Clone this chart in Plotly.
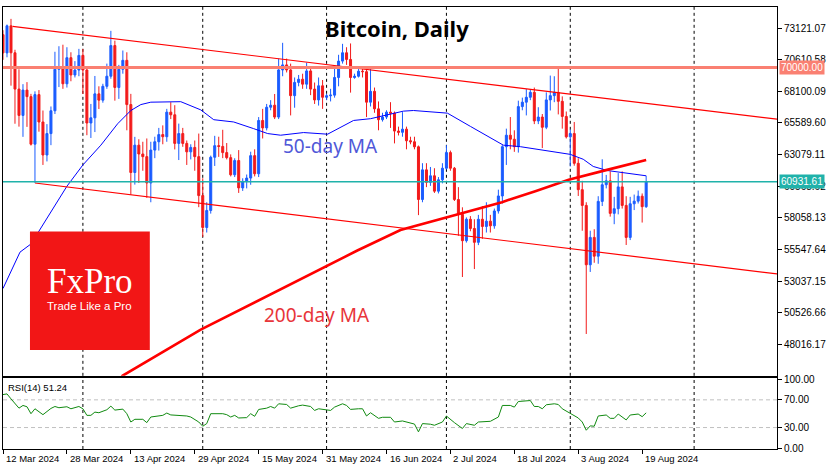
import pandas as pd
import plotly.graph_objects as go
from plotly.subplots import make_subplots

# ---------------- data ----------------
start_date = "2024-03-12"

opens = [72600, 71150, 73300, 71160, 68280, 66190, 68200, 67680, 63910, 67840,
         65670, 63050, 64750, 66560, 69850, 70000, 68700, 70770, 69400, 69790,
         70950, 69790, 65590, 66000, 67900, 67400, 68500, 69300, 71730, 68410,
         69850, 70560, 67050, 61660, 63830, 63130, 62920, 60830, 63440, 64100,
         64670, 64500, 66450, 66240, 63970, 64750, 63970, 63300, 63650, 62920,
         59830, 57300, 58650, 62870, 63790, 63730, 63240, 62840, 61480, 62610,
         60440, 60960, 61220, 63000, 61560, 65790, 65200, 66840, 67000, 66060,
         69800, 70200, 69800, 67760, 68810, 69060, 68670, 69720, 68280, 67420,
         68540, 67630, 67750, 67800, 69200, 70500, 71160, 70630, 69200, 69300,
         69700, 69660, 67240, 68100, 66710, 65850, 66060, 66450, 66370, 64950,
         64850, 65100, 64180, 64100, 63700, 59520, 61870, 60880, 61400, 60180,
         61080, 62000, 63240, 62000, 59520, 58340, 56250, 57950, 57220, 56120,
         57950, 57380, 57800, 57430, 58610, 59800, 63710, 64620, 64300, 63710,
         66890, 67240, 67630, 68020, 65750, 66060, 65250, 67420, 67760, 68020,
         67310, 66110, 64490, 64750, 62390, 60300, 59050, 54340, 56510, 55020,
         59370, 60690, 61000, 58420, 58790, 60520, 59050, 56510, 59180, 59390,
         59780, 58950]
highs = [72950, 73400, 73850, 71400, 69850, 68670, 68830, 67900, 68100, 68200,
         66580, 65500, 66900, 71240, 71680, 71800, 71600, 71200, 70500, 71470,
         71470, 70000, 67100, 69320, 68500, 68700, 70300, 72900, 72120, 70200,
         71340, 71200, 67900, 64490, 64300, 64100, 64360, 64100, 64500, 65200,
         65400, 66710, 67240, 67000, 65540, 65200, 64200, 63900, 64200, 64750,
         61200, 59300, 63000, 64570, 64500, 65050, 64000, 63100, 62790, 63440,
         61200, 61500, 63310, 63500, 66060, 66710, 67100, 67400, 67890, 70700,
         71950, 70700, 70300, 69200, 69400, 69500, 70370, 70000, 68800, 69200,
         69000, 67900, 68300, 69980, 71000, 71870, 71600, 71900, 69500, 69900,
         70100, 69900, 69980, 68400, 67300, 66400, 66600, 67240, 66500, 65300,
         66450, 65300, 64500, 64500, 63800, 62400, 62400, 62100, 62000, 61300,
         62400, 63830, 63400, 62100, 60500, 58900, 58100, 58200, 57950, 58300,
         59000, 59300, 58300, 58800, 60300, 63830, 65140, 66060, 65010, 67360,
         67600, 68280, 68280, 68400, 66840, 66300, 68020, 69350, 69300, 70030,
         67700, 66500, 65060, 65670, 62790, 61000, 59300, 57040, 57160, 59780,
         62710, 61470, 61750, 59730, 61610, 61750, 59780, 59730, 59910, 60230,
         60000, 61400]
lows = [70600, 70800, 68550, 65530, 65300, 64490, 65280, 63800, 60830, 64900,
        62260, 62540, 63830, 66300, 68440, 68300, 68400, 68900, 69200, 69300,
        67890, 64620, 64400, 64870, 66700, 67200, 68300, 69100, 67360, 67500,
        69500, 65010, 59900, 60700, 60830, 61800, 59650, 59300, 62800, 63400,
        63900, 64100, 65900, 63490, 62650, 63700, 62260, 62700, 61800, 58910,
        56550, 56900, 58400, 62180, 62900, 62800, 62700, 61350, 61300, 60040,
        60200, 60400, 60690, 61350, 61300, 64360, 65000, 66600, 65900, 65900,
        69300, 69600, 66190, 66800, 68500, 68300, 68300, 67800, 67100, 66970,
        66710, 67400, 67300, 67600, 68500, 70300, 70200, 68000, 69100, 69200,
        69200, 66060, 66900, 66400, 65010, 65700, 65900, 65200, 63970, 64600,
        64500, 63500, 63900, 63500, 58280, 59300, 60500, 60600, 60040, 60000,
        60800, 61900, 61800, 59400, 56640, 53370, 56100, 57000, 54000, 55900,
        56400, 56900, 56900, 57200, 58400, 59200, 62260, 63500, 63300, 63240,
        66600, 66190, 67400, 65500, 65500, 63600, 65100, 66580, 67240, 66270,
        65140, 64360, 62140, 62200, 59800, 57040, 48850, 53770, 54500, 54420,
        59000, 60400, 58160, 57560, 58340, 58800, 55910, 56300, 58680, 59200,
        57690, 58850]
closes = [71150, 73300, 71160, 68280, 66190, 68200, 67680, 63910, 67840, 65670,
          63050, 64750, 66560, 69850, 70000, 68700, 70770, 69400, 69790, 70950,
          69790, 65590, 66000, 67900, 67400, 68500, 69300, 71730, 68410, 69850,
          70560, 67050, 61660, 63830, 63130, 62920, 60830, 63440, 64100, 64670,
          64500, 66450, 66240, 63970, 64750, 63970, 63300, 63650, 62920, 59830,
          57300, 58650, 62870, 63790, 63730, 63240, 62840, 61480, 62610, 60440,
          60960, 61220, 63000, 61560, 65790, 65200, 66840, 67000, 66060, 69800,
          70200, 69800, 67760, 68810, 69060, 68670, 69720, 68280, 67420, 68540,
          67630, 67750, 67800, 69200, 70500, 71160, 70630, 69200, 69300, 69700,
          69660, 67240, 68100, 66710, 65850, 66060, 66450, 66370, 64950, 64850,
          65100, 64180, 64100, 63700, 59520, 61870, 60880, 61400, 60180, 61080,
          62000, 63240, 62000, 59520, 58340, 56250, 57950, 57220, 56120, 57950,
          57380, 57800, 57430, 58610, 59800, 63710, 64620, 64300, 63710, 66890,
          67240, 67630, 68020, 65750, 66060, 65250, 67420, 67760, 68020, 67310,
          66110, 64490, 64750, 62390, 60300, 59050, 54340, 56510, 55020, 59370,
          60690, 61000, 58420, 58790, 60520, 59050, 56510, 59180, 59390, 59780,
          58950, 60931.61]

# moving averages (day offset from start, price)
ma50_day = [0, 4.25, 7, 16, 20, 24.5, 28.7, 32, 34.5, 37, 44.5, 49.5, 52.75, 57.75,
            62.75, 66.25, 69.5, 75.25, 81.25, 87.75, 92, 100.25, 102.75, 111.25,
            117, 125.25, 129.5, 135.25, 142, 145.25, 147.75, 151.25, 155.25, 161]
ma50_val = [52460, 55340, 55990, 60570, 62260, 63830, 65530, 66580, 67050, 67240,
            67280, 66630, 65850, 65670, 65140, 64750, 64620, 64830, 64700, 65790,
            65930, 66530, 66580, 66370, 65320, 63830, 63710, 63440, 63100, 62710,
            62140, 61820, 61670, 61400]
ma200_day = [27, 29.9, 49.5, 81.2, 88.7, 99.5, 109.5, 116.6, 124.9, 133.25, 141.6, 151.2, 161]
ma200_val = [44120, 45530, 49190, 54290, 55470, 57100, 57950, 58610, 59310, 60180,
             61090, 61870, 62660]

# channel lines (day offset, price)
upper_day = [2.4, 193.75]
upper_val = [73247, 65890]
lower_day = [8, 193.75]
lower_val = [60828, 53611]

level_price = 70000.00
last_price = 60931.61

# RSI(14) (day offset, value)
rsi_day = [0, 1, 2, 4, 5, 6, 7, 8, 10, 12, 13, 14, 16, 17, 19, 20, 21, 22, 23, 24,
           26, 27, 28, 30, 31, 32, 33, 35, 36, 37, 40, 41, 42, 44, 46, 47, 49, 50,
           51, 52, 55, 56, 57, 58, 59, 61, 62, 63, 64, 66, 67, 68, 69, 71, 72, 74,
           75, 77, 78, 79, 82, 83, 85, 86, 87, 89, 90, 91, 92, 94, 95, 97, 98, 100,
           102, 103, 104, 105, 107, 108, 110, 111, 113, 115, 116, 118, 119, 121, 122,
           124, 125, 127, 128, 129, 131, 132, 133, 134, 135, 136, 138, 139, 140, 142,
           144, 145, 146, 147, 148, 149, 151, 152, 153, 154, 155, 156, 157, 159, 160,
           161]
rsi_val = [77.6, 78.6, 71.4, 58, 61.9, 60, 50, 57.1, 48.6, 57.6, 60.4, 58.6, 60, 57.1,
           60.4, 57.1, 47.6, 47.6, 52.3, 51.4, 55.7, 60.9, 55.2, 56.6, 50, 38, 41.9,
           41.9, 37.1, 45.2, 47.6, 50.9, 48.2, 47.6, 46.7, 45.2, 38, 31.9, 35.7, 50,
           50, 48.6, 45.2, 47.6, 43.8, 44.3, 50, 46.2, 56.1, 58, 60.4, 58, 64.3, 63.3,
           58, 61.4, 62.4, 60.4, 54.7, 57.1, 54.7, 59.5, 64.3, 61.9, 56.2, 57.1, 57.1,
           46.7, 51.4, 43.3, 44.8, 44.8, 38, 39.5, 36, 35, 23.8, 35.7, 34.8, 33.3, 38,
           46.6, 37.1, 28.6, 35.7, 33.3, 38, 39, 39, 45.2, 61.9, 61.9, 59.5, 67.6,
           68.1, 69, 60.4, 60.4, 57.1, 62.9, 64.3, 63.3, 57.1, 50, 43.8, 38, 26.1,
           32.4, 31.9, 46.7, 48.1, 43.3, 43.3, 49.5, 45.7, 41, 48.1, 49.5, 45.7, 51.24]

price_ticks = [73121.07, 70610.58, 68100.09, 65589.60, 63079.11, 60568.62,
               58058.13, 55547.64, 53037.15, 50526.66, 48016.17]
rsi_ticks = [0, 30, 70, 100]
date_tick_labels = ["12 Mar 2024", "28 Mar 2024", "13 Apr 2024", "29 Apr 2024",
                    "15 May 2024", "31 May 2024", "16 Jun 2024", "2 Jul 2024",
                    "18 Jul 2024", "3 Aug 2024", "19 Aug 2024"]
date_tick_dates = ["2024-03-12", "2024-03-28", "2024-04-13", "2024-04-29",
                   "2024-05-15", "2024-05-31", "2024-06-16", "2024-07-02",
                   "2024-07-18", "2024-08-03", "2024-08-19"]
month_separators = ["2024-04-01", "2024-05-01", "2024-06-01", "2024-07-01",
                    "2024-08-01", "2024-09-01"]

# ---------------- figure ----------------
t0 = pd.Timestamp(start_date)
dates = pd.date_range(t0, periods=len(closes), freq="D")
to_date = lambda days: [t0 + pd.Timedelta(days=d) for d in days]

BLUE = "#1a5cff"
RED = "#f21b1b"
W, H = 835, 470
L_PX, R_PX, T_PX, B_PX = 2, 777, 2, 449


def px_x(px):
    return (px - L_PX) / (R_PX - L_PX)


def px_y(py):
    return (B_PX - py) / (B_PX - T_PX)


fig = make_subplots(rows=2, cols=1, shared_xaxes=True, vertical_spacing=0.0)

fig.add_trace(go.Candlestick(
    x=dates, open=opens, high=highs, low=lows, close=closes,
    increasing=dict(line=dict(color=BLUE, width=1), fillcolor=BLUE),
    decreasing=dict(line=dict(color=RED, width=1), fillcolor=RED),
    whiskerwidth=0, showlegend=False, hoverinfo="skip"), row=1, col=1)

fig.add_trace(go.Scatter(x=to_date(ma50_day), y=ma50_val, mode="lines",
                         line=dict(color="#0000ff", width=1), showlegend=False,
                         hoverinfo="skip"), row=1, col=1)
fig.add_trace(go.Scatter(x=to_date(ma200_day), y=ma200_val, mode="lines",
                         line=dict(color="#ff0000", width=2.6), showlegend=False,
                         hoverinfo="skip"), row=1, col=1)
fig.add_trace(go.Scatter(x=to_date(upper_day), y=upper_val, mode="lines",
                         line=dict(color="#ff0000", width=1.2), showlegend=False,
                         hoverinfo="skip"), row=1, col=1)
fig.add_trace(go.Scatter(x=to_date(lower_day), y=lower_val, mode="lines",
                         line=dict(color="#ff0000", width=1.2), showlegend=False,
                         hoverinfo="skip"), row=1, col=1)

fig.add_trace(go.Scatter(x=to_date(rsi_day), y=rsi_val, mode="lines",
                         line=dict(color="#108a10", width=1), showlegend=False,
                         hoverinfo="skip"), row=2, col=1)

x_range = [t0, t0 + pd.Timedelta(days=193.75)]
tick_font = dict(family="Liberation Sans", size=10, color="black")
date_font = dict(family="Liberation Sans", size=9.5, color="black")

axis_common = dict(showline=True, linecolor="black", linewidth=1, mirror=True,
                   showgrid=False, zeroline=False)
fig.update_xaxes(range=x_range, rangeslider_visible=False, **axis_common)
fig.update_xaxes(row=1, col=1, showticklabels=False, ticks="")
fig.update_xaxes(row=2, col=1, tickvals=pd.to_datetime(date_tick_dates), ticks="outside",
                 ticklen=4, tickcolor="black", showticklabels=False)

fig.update_yaxes(row=1, col=1, side="right", range=[45529, 74792],
                 tickvals=price_ticks, ticktext=[f"{v:.2f}" for v in price_ticks],
                 ticks="outside", ticklen=4, tickcolor="black", tickfont=tick_font,
                 domain=[px_y(375), 1.0], **axis_common)
fig.update_yaxes(row=2, col=1, side="right", range=[-1, 101.4],
                 tickvals=rsi_ticks, ticktext=[f"{v:.2f}" for v in rsi_ticks],
                 ticks="outside", ticklen=4, tickcolor="black", tickfont=tick_font,
                 domain=[0.0, px_y(377.3)], **axis_common)

shapes = []
for d in month_separators:
    for xr, yr in (("x", "y domain"), ("x2", "y2 domain")):
        shapes.append(dict(type="line", xref=xr, yref=yr, x0=d, x1=d, y0=0, y1=1,
                           line=dict(color="black", width=1, dash="3px,3px"), layer="below"))
for lv in (30, 70):
    shapes.append(dict(type="line", xref="x2 domain", yref="y2", x0=0, x1=1, y0=lv, y1=lv,
                       line=dict(color="#c0c0c0", width=1, dash="4px,3px"), layer="below"))
shapes.append(dict(type="line", xref="x domain", yref="y", x0=0, x1=1,
                   y0=level_price, y1=level_price,
                   line=dict(color="#fa8072", width=3), layer="above"))
shapes.append(dict(type="line", xref="x domain", yref="y", x0=0, x1=1,
                   y0=last_price, y1=last_price,
                   line=dict(color="#20b2aa", width=1.5), layer="above"))
# logo square
shapes.append(dict(type="rect", xref="paper", yref="paper",
                   x0=px_x(29), x1=px_x(149), y0=px_y(349), y1=px_y(229),
                   fillcolor="#f21616", line=dict(width=0), layer="above"))


def label(text, px, py, size, color, family="Noto Sans", xanchor="center"):
    return dict(text=text, x=px_x(px), y=px_y(py), xref="paper", yref="paper",
                xanchor=xanchor, yanchor="middle", showarrow=False,
                font=dict(family=family, size=size, color=color))


annotations = [
    label("<b>Bitcoin, Daily</b>", 397, 23, 22, "black"),
    label("50-day MA", 330, 143, 19, "#5058d8"),
    label("200-day MA", 316.5, 313, 19, "#e8353a"),
    label("FxPro", 89.5, 280, 35, "white", family="Liberation Serif"),
    label("Trade Like a Pro", 89, 304, 11.5, "white", family="Liberation Sans"),
    label("RSI(14) 51.24", 5.5, 386.5, 9.5, "black", family="Liberation Sans",
          xanchor="left"),
    dict(text="70000.00", x=1 + 2.5 / (R_PX - L_PX), y=level_price, xref="paper", yref="y",
         xanchor="left", yanchor="middle", showarrow=False, bgcolor="#fa8072",
         borderpad=1, font=dict(family="Liberation Sans", size=10, color="white")),
    dict(text=f"{last_price:.2f}", x=1 + 2.5 / (R_PX - L_PX), y=last_price, xref="paper",
         yref="y", xanchor="left", yanchor="middle", showarrow=False, bgcolor="#20b2aa",
         borderpad=1, font=dict(family="Liberation Sans", size=10, color="white")),
]
for lbl, d in zip(date_tick_labels, date_tick_dates):
    annotations.append(dict(text=lbl, x=d, xref="x2", y=px_y(459), yref="paper",
                            xanchor="left", yanchor="middle", xshift=1, showarrow=False,
                            font=date_font))

fig.update_layout(
    width=W, height=H,
    margin=dict(l=L_PX, r=W - R_PX, t=T_PX, b=H - B_PX),
    paper_bgcolor="white", plot_bgcolor="white",
    boxgap=0.5, boxgroupgap=0.0,
    shapes=shapes, annotations=annotations, showlegend=False,
)

fig.write_html("out.html", config={"displayModeBar": False, "staticPlot": True},
               post_script="document.body.style.margin='0';document.body.style.overflow='hidden';")
